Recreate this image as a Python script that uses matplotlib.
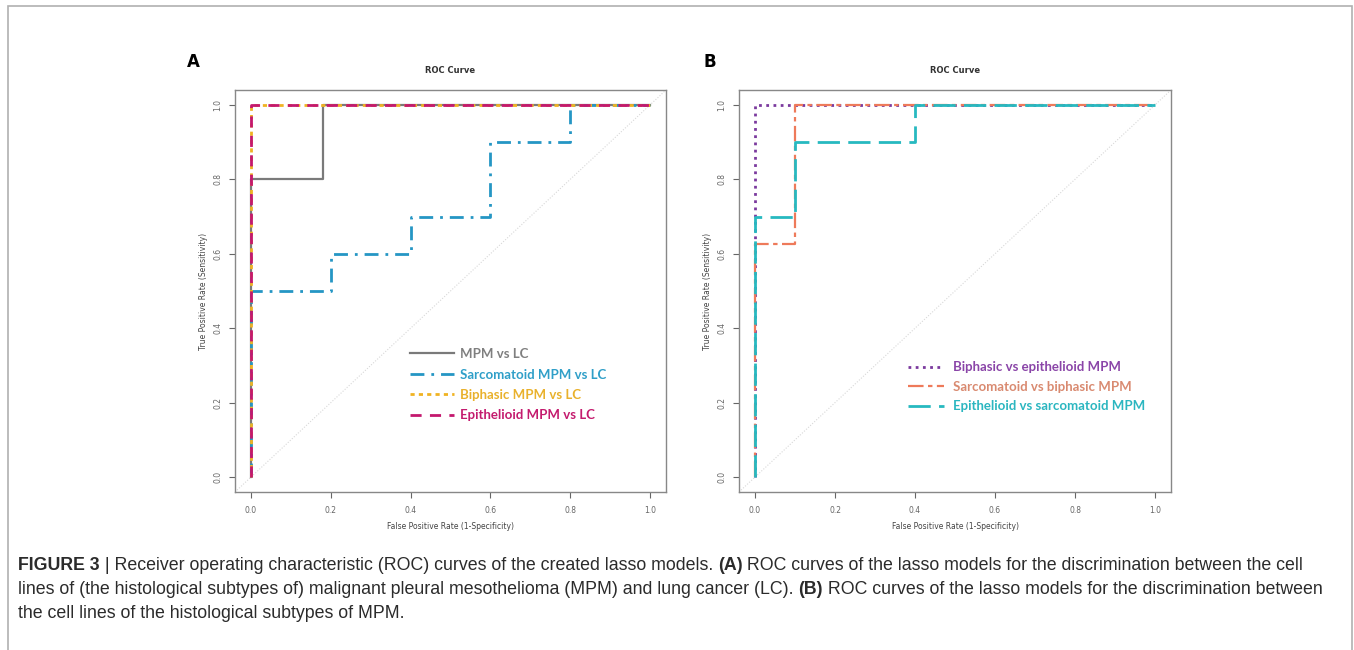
import matplotlib
matplotlib.use("Agg")
import matplotlib.pyplot as plt
from matplotlib.lines import Line2D
from matplotlib.patches import Rectangle

# panel A: ROC curves, MPM subtypes vs lung cancer
a_names = ["MPM vs LC", "Sarcomatoid MPM vs LC", "Biphasic MPM vs LC", "Epithelioid MPM vs LC"]
a_fpr = [
    [0, 0, 0.18, 0.18, 1],
    [0, 0, 0.2, 0.2, 0.4, 0.4, 0.6, 0.6, 0.8, 0.8, 1],
    [0, 0, 1],
    [0, 0, 1],
]
a_tpr = [
    [0, 0.8, 0.8, 1, 1],
    [0, 0.5, 0.5, 0.6, 0.6, 0.7, 0.7, 0.9, 0.9, 1, 1],
    [0, 1, 1],
    [0, 1, 1],
]

# panel B: ROC curves between MPM subtypes
b_names = ["Biphasic vs epithelioid MPM", "Sarcomatoid vs biphasic MPM", "Epithelioid vs sarcomatoid MPM"]
b_fpr = [
    [0, 0, 1],
    [0, 0, 0.1, 0.1, 1],
    [0, 0, 0.1, 0.1, 0.4, 0.4, 1],
]
b_tpr = [
    [0, 1, 1],
    [0, 0.625, 0.625, 1, 1],
    [0, 0.7, 0.7, 0.9, 0.9, 1, 1],
]

ticks = [0.0, 0.2, 0.4, 0.6, 0.8, 1.0]
tick_labels = ["0.0", "0.2", "0.4", "0.6", "0.8", "1.0"]

caption = [
    [("FIGURE 3", "bold"), (" | Receiver operating characteristic (ROC) curves of the created lasso models. ", "normal"),
     ("(A)", "bold"), (" ROC curves of the lasso models for the discrimination between the cell", "normal")],
    [("lines of (the histological subtypes of) malignant pleural mesothelioma (MPM) and lung cancer (LC). ", "normal"),
     ("(B)", "bold"), (" ROC curves of the lasso models for the discrimination between", "normal")],
    [("the cell lines of the histological subtypes of MPM.", "normal")],
]

a_colors = ["#7a7a7a", "#2596c4", "#f0b323", "#c4186e"]
a_styles = ["-", (0, (5, 2.5, 1, 2.5)), (0, (1.5, 1.5)), (0, (4, 3))]
a_widths = [1.6, 2.0, 2.0, 2.0]
b_colors = ["#7b3a9e", "#ee7a5a", "#27b9c0"]
b_styles = [(0, (1, 1.6)), (0, (7, 2, 2, 2)), (0, (8, 3))]
b_widths = [2.0, 1.6, 2.0]
a_text = ["#7f7f7f", "#2f9fc8", "#e9b12c", "#c41b6e"]
b_text = ["#8a45a8", "#d98a70", "#2bb6c0"]

W, H = 1354, 650
fig = plt.figure(figsize=(W / 100, H / 100), dpi=100)
fig.patches.append(Rectangle((8 / W, -0.01), 1344 / W, (H - 6) / H + 0.01, transform=fig.transFigure,
                             fill=False, edgecolor="#b0b0b0", lw=1.2))


def px_axes(l, t, r, b):
    return fig.add_axes([l / W, (H - b) / H, (r - l) / W, (b - t) / H])


def roc_panel(ax, fprs, tprs, colors, styles, widths):
    ax.axline((0, 0), (1, 1), color="#d8d8d8", lw=0.8, ls=(0, (1, 1.5)))
    for x, y, c, s, w in zip(fprs, tprs, colors, styles, widths):
        ax.plot(x, y, color=c, ls=s, lw=w)
    ax.set_xlim(-0.04, 1.04)
    ax.set_ylim(-0.04, 1.04)
    ax.set_xticks(ticks, tick_labels)
    ax.set_yticks(ticks, tick_labels, rotation=90, va="center")
    ax.tick_params(labelsize=5.5, colors="#666666", length=4, width=0.8, pad=6)
    ax.tick_params(axis="y", pad=5)
    for sp in ax.spines.values():
        sp.set_color("#888888")
        sp.set_linewidth(1.0)
    ax.set_title("ROC Curve", fontsize=6, fontweight="bold", color="#333333", pad=12)
    ax.set_xlabel("False Positive Rate (1-Specificity)", fontsize=5.5, color="#444444", labelpad=5)
    ax.set_ylabel("True Positive Rate (Sensitivity)", fontsize=5.5, color="#444444", labelpad=4)


ax_a = px_axes(235, 90, 666, 492)
roc_panel(ax_a, a_fpr, a_tpr, a_colors, a_styles, a_widths)
ax_b = px_axes(739, 90, 1171, 492)
roc_panel(ax_b, b_fpr, b_tpr, b_colors, b_styles, b_widths)

fig.text(187 / W, 1 - 62 / H, "A", fontsize=12, fontweight="bold", va="center")
fig.text(704 / W, 1 - 62 / H, "B", fontsize=12, fontweight="bold", va="center")

h_a = [Line2D([], [], color=c, ls=s, lw=w) for c, s, w in zip(a_colors, a_styles, a_widths)]
ax_a.legend(h_a, a_names, loc="upper left", bbox_to_anchor=(0.405, 0.358), frameon=False,
            prop={"family": "Lato", "weight": "bold", "size": 9.5}, labelcolor=a_text,
            handlelength=3.4, handletextpad=0.45, labelspacing=0.64, borderpad=0, borderaxespad=0)
h_b = [Line2D([], [], color=c, ls=s, lw=w) for c, s, w in zip(b_colors, b_styles, b_widths)]
ax_b.legend(h_b, b_names, loc="upper left", bbox_to_anchor=(0.391, 0.325), frameon=False,
            prop={"family": "Lato", "weight": "bold", "size": 9.5}, labelcolor=b_text,
            handlelength=2.7, handletextpad=0.7, labelspacing=0.57, borderpad=0, borderaxespad=0)

# caption: pieces placed one after the other, size chosen so line 2 ends near x=1326
renderer = fig.canvas.get_renderer()
cap_font = ["Liberation Sans", "DejaVu Sans"]


def draw_caption(size):
    objs, widths = [], []
    for i, line in enumerate(caption):
        x = 18
        y = 1 - (566 + 24 * i) / H
        for txt, wt in line:
            t = fig.text(x / W, y, txt, fontsize=size, fontweight=wt, family=cap_font,
                         color="#2b2b2b", va="center")
            objs.append(t)
            x = t.get_window_extent(renderer).x1
        widths.append(x - 18)
    return objs, widths


objs, widths = draw_caption(12)
for t in objs:
    t.remove()
draw_caption(12 * 1308 / widths[1])

fig.savefig("out.png", dpi=100)
